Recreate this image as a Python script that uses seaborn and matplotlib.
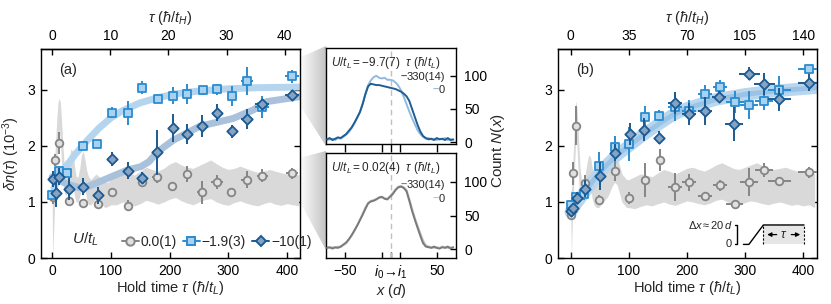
import numpy as np
import pandas as pd
import matplotlib
matplotlib.use("Agg")
import matplotlib.pyplot as plt
import seaborn as sns
from matplotlib.lines import Line2D
from matplotlib.patches import Polygon, Rectangle
from matplotlib.colors import LinearSegmentedColormap

# ---------------- data: panel (a) ----------------
xa_ci = [2, 5, 11, 28, 52, 78, 102, 129, 153, 178, 204, 230, 255, 281, 305, 331, 358, 409]
ya_ci = [1.08, 1.75, 2.05, 1.02, 0.98, 0.96, 1.17, 0.93, 1.35, 1.44, 1.29, 1.50, 1.17, 1.36, 1.18, 1.40, 1.47, 1.51]
ya_ci_err = [0.12, 0.10, 0.20, 0.10, 0.05, 0.05, 0.08, 0.10, 0.05, 0.10, 0.04, 0.15, 0.20, 0.12, 0.05, 0.15, 0.12, 0.10]
xa_ci_err = [0, 0, 0, 0, 0, 0, 0, 0, 0, 8, 6, 0, 8, 10, 8, 10, 10, 10]

xa_sq = [0, 12, 26, 52, 77, 102, 129, 153, 180, 205, 230, 256, 281, 307, 332, 357, 408]
ya_sq = [1.13, 1.56, 1.52, 2.00, 2.03, 2.59, 2.59, 3.04, 2.83, 2.90, 2.93, 2.99, 3.01, 2.89, 3.16, 2.69, 3.24]
ya_sq_err = [0.08, 0.08, 0.06, 0.05, 0.05, 0.10, 0.22, 0.12, 0.05, 0.15, 0.18, 0.08, 0.10, 0.18, 0.25, 0.20, 0.12]
xa_sq_err = [0, 0, 0, 0, 0, 0, 0, 0, 0, 0, 0, 6, 8, 8, 10, 12, 12]

xa_di = [2, 6, 12, 28, 52, 78, 102, 129, 153, 178, 205, 230, 255, 281, 307, 332, 357, 408]
ya_di = [1.41, 1.16, 1.45, 1.23, 1.27, 1.12, 1.77, 1.56, 1.43, 1.89, 2.32, 2.21, 2.36, 2.59, 2.26, 2.48, 2.74, 2.91]
ya_di_err = [0.15, 0.25, 0.15, 0.20, 0.15, 0.15, 0.12, 0.15, 0.10, 0.40, 0.25, 0.18, 0.20, 0.15, 0.12, 0.18, 0.10, 0.08]
xa_di_err = [0, 0, 0, 0, 0, 0, 0, 0, 0, 0, 0, 0, 6, 8, 8, 10, 12, 12]

fit_a_sq_x = [3, 10, 20, 30, 40, 50, 60, 80, 100, 120, 150, 180, 210, 250, 300, 350, 422]
fit_a_sq_y = [1.25, 1.40, 1.58, 1.72, 1.86, 1.98, 2.10, 2.32, 2.50, 2.63, 2.77, 2.86, 2.93, 2.98, 3.02, 3.04, 3.05]
fit_a_di_x = [0, 10, 25, 45, 60, 94, 128, 151, 165, 180, 206, 251, 308, 342, 365, 422]
fit_a_di_y = [1.45, 1.40, 1.32, 1.26, 1.27, 1.42, 1.57, 1.63, 1.72, 1.90, 2.10, 2.35, 2.49, 2.64, 2.79, 2.88]

band_a_x = [0, 1, 2, 4, 6, 8, 10, 12, 14, 16, 18, 20, 23, 26, 29, 32, 35, 38, 41, 44, 47, 50, 53, 56,
            59, 62, 66, 70, 75, 80, 85, 90, 95, 100,
            110, 120, 130, 140, 150, 160, 170, 180, 190, 200, 210, 220, 230, 240, 250, 260,
            270, 280, 290, 300, 310, 320, 330, 340, 350, 360, 370, 380, 390, 400, 410, 420]
band_a_lo = [1.0, 0.0, 0.3, 0.9, 1.3, 1.7, 2.1, 2.3, 2.1, 1.7, 1.4, 1.2, 1.1, 1.2, 1.3, 1.35, 1.3, 1.1, 1.0, 1.0,
             1.1, 1.25, 1.3, 1.2, 1.05, 0.95, 0.95, 1.0, 1.1, 1.05, 0.95, 0.9, 0.92, 0.95,
             0.95, 1.0, 0.98, 0.93, 0.97, 1.03, 1.0, 0.96, 1.0, 1.05, 1.08, 1.02, 0.98, 0.95, 1.0, 1.04,
             1.06, 1.0, 0.96, 0.94, 0.99, 1.02, 0.98, 0.95, 0.93, 0.97, 1.0, 0.96, 0.94, 0.97, 0.95, 0.93]
band_a_hi = [1.4, 1.2, 1.3, 1.7, 2.1, 2.5, 2.78, 2.85, 2.78, 2.45, 2.05, 1.75, 1.5, 1.55, 1.75, 1.95, 1.9, 1.65, 1.45, 1.45,
             1.6, 1.85, 1.9, 1.75, 1.55, 1.45, 1.4, 1.45, 1.5, 1.45, 1.4, 1.35, 1.35, 1.4,
             1.45, 1.5, 1.52, 1.48, 1.55, 1.62, 1.58, 1.55, 1.6, 1.68, 1.72, 1.66, 1.62, 1.6, 1.65, 1.7,
             1.75, 1.68, 1.62, 1.58, 1.6, 1.64, 1.6, 1.56, 1.53, 1.55, 1.58, 1.55, 1.52, 1.5, 1.52, 1.48]

# ---------------- data: panel (b) ----------------
xb_ci = [0, 3, 9, 25, 49, 76, 101, 128, 153, 179, 204, 231, 257, 282, 307, 333, 359, 411]
yb_ci = [0.77, 1.51, 2.36, 1.33, 1.04, 1.56, 1.07, 1.39, 1.75, 1.26, 1.35, 1.11, 1.30, 0.96, 1.35, 1.57, 1.375, 1.53]
yb_ci_err = [0.10, 0.20, 0.35, 0.15, 0.08, 0.18, 0.10, 0.30, 0.20, 0.25, 0.15, 0.05, 0.10, 0.05, 0.25, 0.12, 0.05, 0.10]
xb_ci_err = [0, 0, 0, 0, 0, 0, 0, 0, 0, 12, 12, 12, 12, 14, 15, 15, 20, 20]

xb_sq = [0, 9, 22, 49, 76, 101, 128, 152, 179, 204, 231, 257, 283, 307, 333, 359, 411]
yb_sq = [0.95, 1.08, 1.15, 1.64, 1.98, 2.04, 2.51, 2.54, 2.70, 2.62, 2.93, 3.05, 2.78, 2.73, 2.80, 2.99, 3.37]
yb_sq_err = [0.08, 0.08, 0.12, 0.25, 0.20, 0.30, 0.20, 0.10, 0.25, 0.20, 0.15, 0.12, 0.20, 0.25, 0.15, 0.25, 0.08]
xb_sq_err = [0, 0, 0, 0, 0, 0, 0, 0, 12, 12, 12, 12, 15, 15, 15, 20, 20]

xb_di = [0, 3, 10, 24, 50, 76, 102, 126, 152, 179, 204, 231, 256, 281, 307, 333, 359, 411]
yb_di = [0.83, 0.89, 1.07, 1.24, 1.47, 1.88, 2.21, 2.29, 2.15, 2.77, 2.57, 2.63, 2.88, 2.39, 3.29, 3.11, 2.83, 3.13]
yb_di_err = [0.08, 0.10, 0.10, 0.15, 0.25, 0.15, 0.20, 0.20, 0.12, 0.20, 0.20, 0.25, 0.10, 0.30, 0.12, 0.20, 0.20, 0.15]
xb_di_err = [0, 0, 0, 0, 0, 0, 0, 0, 0, 12, 12, 12, 12, 15, 18, 18, 20, 20]

fit_b_x = [0, 5, 10, 20, 30, 40, 50, 60, 80, 100, 125, 150, 175, 200, 250, 300, 350, 424]
fit_b_y = [0.82, 0.90, 0.98, 1.12, 1.26, 1.40, 1.53, 1.64, 1.84, 2.00, 2.20, 2.38, 2.55, 2.67, 2.83, 2.92, 2.98, 3.04]

band_b_x = [0, 1, 2, 4, 6, 8, 9, 10, 12, 14, 16, 19, 22, 25, 28, 31, 34, 37, 40, 44, 48, 52, 56, 60,
            64, 68, 72, 76, 80, 84, 88, 92, 96, 100,
            110, 120, 130, 140, 150, 160, 170, 180, 190, 200, 210, 220, 230, 240, 250, 260,
            270, 280, 290, 300, 310, 320, 330, 340, 350, 360, 370, 380, 390, 400, 410, 420]
band_b_lo = [0.8, 0.0, 0.4, 1.0, 1.5, 2.0, 2.2, 2.1, 1.7, 1.3, 1.05, 0.95, 1.0, 1.15, 1.3, 1.35, 1.25, 1.05, 0.95, 0.9,
             0.9, 0.95, 1.0, 1.05, 1.1, 1.2, 1.3, 1.35, 1.3, 1.15, 1.0, 0.95, 0.9, 0.9,
             0.88, 0.92, 0.95, 0.93, 0.97, 1.0, 0.96, 0.94, 0.98, 1.02, 1.0, 0.97, 0.95, 0.98, 1.03, 1.05,
             1.0, 0.97, 0.95, 0.99, 1.02, 1.0, 0.97, 0.95, 0.98, 1.0, 0.97, 0.94, 0.96, 0.93, 0.95, 0.9]
band_b_hi = [1.2, 1.2, 1.3, 1.8, 2.3, 2.7, 2.8, 2.75, 2.45, 2.0, 1.6, 1.35, 1.35, 1.5, 1.7, 1.84, 1.8, 1.6, 1.45, 1.4,
             1.4, 1.45, 1.5, 1.55, 1.6, 1.7, 1.78, 1.81, 1.78, 1.65, 1.5, 1.45, 1.4, 1.4,
             1.45, 1.5, 1.48, 1.45, 1.52, 1.58, 1.55, 1.5, 1.55, 1.6, 1.62, 1.58, 1.55, 1.6, 1.66, 1.7,
             1.65, 1.6, 1.58, 1.62, 1.66, 1.7, 1.65, 1.6, 1.58, 1.6, 1.62, 1.58, 1.55, 1.52, 1.55, 1.5]

# ---------------- data: middle panels ----------------
pos_x = [-70, -67, -64, -61, -58, -55, -52, -49, -46, -43, -40, -37, -34, -31, -28, -25, -22, -19, -16, -13,
         -10, -7, -4, -1, 2, 5, 8, 11, 14, 17, 20, 23, 26, 29, 32, 35, 38, 41, 44, 47, 50, 53, 56, 59, 62, 65, 68]
top_330 = [4, 6, 3, 5, 7, 6, 9, 12, 17, 22, 29, 37, 45, 57, 72, 84, 88, 87, 86, 86,
           85, 84, 83, 82, 81, 80, 78, 76, 73, 69, 62, 50, 38, 26, 16, 9, 6, 4, 5, 3, 6, 4, 5, 3, 6, 3, 4]
top_0 = [3, 4, 5, 3, 6, 5, 8, 11, 15, 21, 28, 36, 45, 58, 73, 86, 93, 98, 100, 97,
         96, 97, 94, 94, 93, 90, 85, 78, 68, 57, 46, 36, 27, 18, 12, 8, 5, 6, 4, 5, 3, 5, 4, 6, 3, 4, 3]
bot_330 = [2, 3, 1, 3, 2, 4, 7, 10, 15, 21, 28, 35, 43, 51, 60, 68, 71, 72, 74, 77,
           78, 75, 74, 78, 82, 88, 92, 93, 91, 86, 72, 57, 44, 32, 20, 9, 4, 3, 2, 4, 2, 1, 3, 2, 4, 1, 3]
bot_0 = [3, 2, 3, 2, 4, 3, 6, 9, 14, 20, 27, 35, 44, 53, 62, 69, 72, 73, 75, 76,
         77, 76, 75, 79, 84, 89, 93, 94, 92, 88, 75, 60, 47, 35, 24, 13, 6, 4, 3, 2, 3, 2, 4, 3, 2, 3, 2]

legend_labels = ["0.0(1)", "\u22121.9(3)", "\u221210(1)"]

# ---------------- styling ----------------
sns.set_theme(style="ticks")
plt.rcParams["font.family"] = ["Liberation Sans", "DejaVu Sans"]
plt.rcParams["mathtext.fontset"] = "custom"
plt.rcParams["mathtext.rm"] = "Liberation Sans"
plt.rcParams["mathtext.it"] = "Liberation Sans:italic"
plt.rcParams["mathtext.bf"] = "Liberation Sans:bold"
plt.rcParams["axes.edgecolor"] = "black"
plt.rcParams["axes.linewidth"] = 1.0
plt.rcParams["xtick.color"] = "black"
plt.rcParams["ytick.color"] = "black"

C_SQ_E, C_SQ_F = "#2b8cd0", "#a9d1f0"
C_DI_E, C_DI_F = "#1b5a92", "#86a4c2"
C_CI_E, C_CI_F = "#858585", "#e0e0e0"
C_BAND = "#d9d9d9"

TFS = 10
LFS = 10.5

fig = plt.figure(figsize=(8.31, 3.04), dpi=100)
W, H = 831.0, 304.0
axA = fig.add_axes([41 / W, 1 - 258 / H, 259 / W, 209 / H])
axB = fig.add_axes([558 / W, 1 - 258 / H, 259 / W, 209 / H])
axT = fig.add_axes([326 / W, 1 - 144 / H, 130 / W, 96 / H])
axM = fig.add_axes([326 / W, 1 - 258 / H, 130 / W, 105 / H])

# background gradient wedges
bg = fig.add_axes([0, 0, 1, 1], zorder=-5)
bg.set_xlim(0, W)
bg.set_ylim(H, 0)
bg.axis("off")
cmap = LinearSegmentedColormap.from_list("g", ["#ffffff", "#c4c4c4"])
grad = np.linspace(0, 1, 64).reshape(1, -1)
for pts in ([(299, 58), (326, 46), (326, 146), (299, 104)],
            [(299, 158), (326, 151), (326, 250), (299, 200)]):
    poly = Polygon(pts, closed=True, facecolor="none", edgecolor="none", transform=bg.transData)
    bg.add_patch(poly)
    im = bg.imshow(grad, extent=[299, 326, 260, 40], cmap=cmap, aspect="auto", interpolation="bilinear")
    im.set_clip_path(poly)
bg.set_xlim(0, W)
bg.set_ylim(H, 0)


def draw_points(ax, x, y, yerr, xerr, marker, ms, ec, fc, z):
    ax.errorbar(x, y, yerr=yerr, xerr=xerr, fmt="none", ecolor=ec, elinewidth=1.4, capsize=0, zorder=z)
    sns.scatterplot(x=x, y=y, ax=ax, marker=marker, s=ms, color=fc, edgecolor=ec, linewidth=1.3,
                    zorder=z + 0.5, legend=False)


def main_panel(ax, band_x, band_lo, band_hi, xlim, top_ticks, factor, label):
    ax.fill_between(band_x, band_lo, band_hi, color=C_BAND, lw=0, zorder=1)
    ax.set_xlim(*xlim)
    ax.set_ylim(0, 3.73)
    ax.set_xticks([0, 100, 200, 300, 400])
    ax.set_yticks([0, 1, 2, 3])
    ax.tick_params(direction="in", length=4, width=1, labelsize=TFS, top=False, right=True, pad=4)
    ax.set_xlabel(r"Hold time $\tau$ ($ħ/t_L$)", fontsize=LFS, labelpad=1)
    sec = ax.secondary_xaxis("top", functions=(lambda v: v / factor, lambda v: v * factor))
    sec.set_xticks(top_ticks)
    sec.tick_params(direction="in", length=4, width=1, labelsize=TFS, pad=4)
    sec.set_xlabel(r"$\tau$ ($ħ/t_H$)", fontsize=LFS, labelpad=5)
    ax.text(0.07, 0.90, label, transform=ax.transAxes, fontsize=LFS, va="center")


# ---------- panel (a) ----------
main_panel(axA, band_a_x, band_a_lo, band_a_hi, (-19, 422), [0, 10, 20, 30, 40], 9.9, "(a)")
axA.set_ylabel(r"$\delta n(\tau)$ (10$^{-3}$)", fontsize=LFS, labelpad=4)
sns.lineplot(x=fit_a_sq_x, y=fit_a_sq_y, ax=axA, color="#b5d5ee", lw=5, zorder=2, solid_capstyle="round")
sns.lineplot(x=fit_a_di_x, y=fit_a_di_y, ax=axA, color="#a9c1da", lw=5, zorder=2, solid_capstyle="round")
draw_points(axA, xa_ci, ya_ci, ya_ci_err, xa_ci_err, "o", 30, C_CI_E, C_CI_F, 3)
draw_points(axA, xa_sq, ya_sq, ya_sq_err, xa_sq_err, "s", 30, C_SQ_E, C_SQ_F, 4)
draw_points(axA, xa_di, ya_di, ya_di_err, xa_di_err, "D", 28, C_DI_E, C_DI_F, 5)

handles = [
    Line2D([], [], color=C_CI_E, lw=1.4, marker="o", ms=6, mfc=C_CI_F, mec=C_CI_E, mew=1.4),
    Line2D([], [], color=C_SQ_E, lw=1.4, marker="s", ms=6, mfc=C_SQ_F, mec=C_SQ_E, mew=1.4),
    Line2D([], [], color=C_DI_E, lw=1.4, marker="D", ms=5.5, mfc=C_DI_F, mec=C_DI_E, mew=1.4),
]
axA.legend(handles, legend_labels, loc="lower left", bbox_to_anchor=(0.28, 0.005), ncol=3, frameon=False,
           handlelength=1.2, handletextpad=0.15, columnspacing=0.45, fontsize=TFS, borderaxespad=0.2)
axA.text(0.12, 0.09, r"$U/t_L$", transform=axA.transAxes, fontsize=LFS + 0.5, va="center")

# ---------- panel (b) ----------
main_panel(axB, band_b_x, band_b_lo, band_b_hi, (-22, 424), [0, 35, 70, 105, 140], 400 / 140, "(b)")
axB.set_ylabel("")
sns.lineplot(x=fit_b_x, y=fit_b_y, ax=axB, color="#b9d6ef", lw=9, zorder=2, solid_capstyle="round")
sns.lineplot(x=fit_b_x, y=fit_b_y, ax=axB, color="#94bfe3", lw=3.5, zorder=2, alpha=0.8)
draw_points(axB, xb_ci, yb_ci, yb_ci_err, xb_ci_err, "o", 30, C_CI_E, C_CI_F, 3)
draw_points(axB, xb_sq, yb_sq, yb_sq_err, xb_sq_err, "s", 30, C_SQ_E, C_SQ_F, 4)
draw_points(axB, xb_di, yb_di, yb_di_err, xb_di_err, "D", 28, C_DI_E, C_DI_F, 5)

# inset sketch in (b)
tr = axB.transAxes
axB.add_patch(Rectangle((0.793, 0.065), 0.157, 0.093, transform=tr, facecolor="#e6e6e6", edgecolor="none", zorder=1.5))
axB.plot([0.716, 0.737, 0.793, 0.950], [0.065, 0.065, 0.158, 0.158], transform=tr, color="black", lw=1.0, zorder=6)
for xv in (0.793, 0.950):
    axB.plot([xv, xv], [0.065, 0.158], transform=tr, color="black", lw=0.8, ls=(0, (2, 1.5)), zorder=6)
axB.plot([0.683, 0.693, 0.693, 0.683], [0.158, 0.158, 0.065, 0.065], transform=tr, color="black", lw=1.0, zorder=6)
axB.text(0.676, 0.158, r"$\Delta x\approx 20\,d$", transform=tr, fontsize=8, ha="right", va="center", zorder=6)
axB.text(0.672, 0.065, "0", transform=tr, fontsize=8, ha="right", va="center", zorder=6)
axB.annotate("", xy=(0.797, 0.112), xytext=(0.855, 0.112), xycoords=tr,
             arrowprops=dict(arrowstyle="-|>", color="black", lw=0.9, mutation_scale=6), zorder=6)
axB.annotate("", xy=(0.946, 0.112), xytext=(0.89, 0.112), xycoords=tr,
             arrowprops=dict(arrowstyle="-|>", color="black", lw=0.9, mutation_scale=6), zorder=6)
axB.text(0.872, 0.112, r"$\tau$", transform=tr, fontsize=9, ha="center", va="center", zorder=6)

# ---------- middle panels ----------
def mid_panel(ax, y330, y0, c330, c0, ylim, title):
    ax.axvline(0, color="#c0c0c0", lw=1.0, ls=(0, (4, 3)), zorder=1)
    sns.lineplot(x=pos_x, y=y0, ax=ax, color=c0, lw=1.4, zorder=2)
    sns.lineplot(x=pos_x, y=y330, ax=ax, color=c330, lw=1.4, zorder=3)
    ax.set_xlim(-71, 71)
    ax.set_ylim(*ylim)
    ax.set_yticks([0, 50, 100])
    ax.set_xticks([-50, -10, 0, 10, 50])
    ax.yaxis.tick_right()
    ax.tick_params(axis="y", direction="in", length=4, width=1, labelsize=TFS, left=False, right=True,
                   labelright=True, labelleft=False, pad=6)
    ax.text(0.04, 0.93, title, transform=ax.transAxes, fontsize=8.5, va="top", ha="left")
    ax.set_xlabel("")
    ax.set_ylabel("")
    t1 = ax.text(0.915, 0.70, "330(14)", transform=ax.transAxes, fontsize=8, ha="right", va="center")
    t2 = ax.text(0.915, 0.565, "0", transform=ax.transAxes, fontsize=8, ha="right", va="center")
    for t, c in ((t1, c330), (t2, c0)):
        ax.annotate("\u2013", xy=(0, 0.5), xycoords=t, ha="right", va="center", fontsize=8,
                    color=c, fontweight="bold", annotation_clip=False)


mid_panel(axT, top_330, top_0, "#1f5d94", "#8fbbe0", (-3, 142),
          r"$U/t_L=-9.7(7)$" + "  " + r"$\tau$ ($ħ/t_L$)")
axT.tick_params(axis="x", direction="out", length=6, width=1, labelbottom=False, top=False, bottom=True)

mid_panel(axM, bot_330, bot_0, "#7a7a7a", "#c3c3c3", (-13, 143),
          r"$U/t_L=0.02(4)$" + "  " + r"$\tau$ ($ħ/t_L$)")
axM.tick_params(axis="x", direction="in", length=4, width=1, labelsize=TFS, top=False, bottom=True, pad=4)
axM.set_xticklabels(["\u221250", "", r"$i_0\!\rightarrow\! i_1$", "", "50"])
axM.set_xlabel(r"$x$ ($d$)", fontsize=LFS, labelpad=1)

fig.text(498 / W, 0.505, r"Count $N(x)$", rotation=90, fontsize=LFS + 0.5, ha="center", va="center")

fig.savefig("out.png", dpi=100)
